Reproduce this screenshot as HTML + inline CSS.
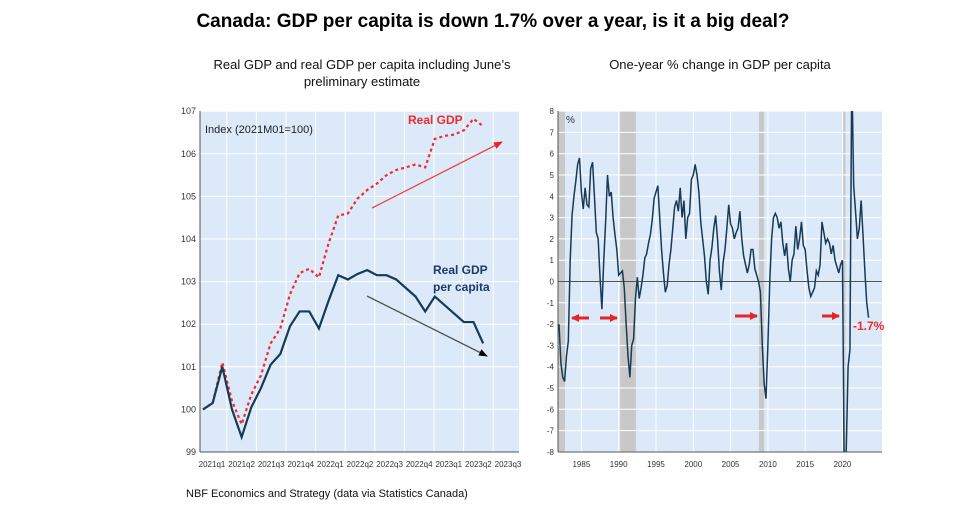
<!DOCTYPE html>
<html><head><meta charset="utf-8"><style>
body{margin:0;background:#fff;font-family:"Liberation Sans",Arial,sans-serif;}
svg text{font-family:"Liberation Sans",Arial,sans-serif;}
</style></head><body>
<svg id="c" width="975" height="508" xmlns="http://www.w3.org/2000/svg">
<text x="493" y="27" text-anchor="middle" font-size="19" font-weight="bold" fill="#000">Canada: GDP per capita is down 1.7% over a year, is it a big deal?</text>
<text x="362" y="69" text-anchor="middle" font-size="13" fill="#111">Real GDP and real GDP per capita including June’s</text>
<text x="362" y="86" text-anchor="middle" font-size="13" fill="#111">preliminary estimate</text>
<text x="720" y="69" text-anchor="middle" font-size="13" fill="#111">One-year % change in GDP per capita</text>
<text x="186" y="497" font-size="11" fill="#111">NBF Economics and Strategy (data via Statistics Canada)</text>
<defs><clipPath id="rc"><rect x="558" y="111" width="324" height="341"/></clipPath>
<marker id="ar" markerUnits="userSpaceOnUse" markerWidth="10" markerHeight="10" refX="8" refY="5" orient="auto"><path d="M0,1.5 L9,5 L0,8.5z" fill="#e8222a"/></marker>
<marker id="ab" markerUnits="userSpaceOnUse" markerWidth="10" markerHeight="10" refX="8" refY="5" orient="auto"><path d="M0,1.5 L9,5 L0,8.5z" fill="#000"/></marker>
<marker id="ar2" markerUnits="userSpaceOnUse" markerWidth="10" markerHeight="10" refX="7" refY="5" orient="auto"><path d="M0,1 L8,5 L0,9z" fill="#e8222a"/></marker></defs>
<g id="left"></g>
<g id="right"></g>
</svg>
<script>
const NS="http://www.w3.org/2000/svg";
function mk(p,t,a){const e=document.createElementNS(NS,t);for(const k in a)e.setAttribute(k,a[k]);p.appendChild(e);return e;}
// ---------- LEFT DATA ----------
const leftYTicks=[99,100,101,102,103,104,105,106,107];
const leftXLabels=["2021q1","2021q2","2021q3","2021q4","2022q1","2022q2","2022q3","2022q4","2023q1","2023q2","2023q3"];
const gdpPerCapita=[100.0,100.15,101.0,100.0,99.35,100.05,100.5,101.05,101.3,101.95,102.3,102.3,101.9,102.55,103.15,103.05,103.18,103.27,103.15,103.15,103.05,102.85,102.65,102.3,102.65,102.45,102.25,102.05,102.05,101.55];
const realGdp=[100.0,100.15,101.1,100.2,99.65,100.35,100.8,101.55,101.9,102.7,103.2,103.3,103.1,103.9,104.55,104.6,104.95,105.15,105.3,105.5,105.62,105.68,105.75,105.68,106.35,106.42,106.45,106.55,106.82,106.65];
// ---------- RIGHT DATA (quarterly from 1982Q1) ----------
const rightYTicks=[-8,-7,-6,-5,-4,-3,-2,-1,0,1,2,3,4,5,6,7,8];
const rightXLabels=[1985,1990,1995,2000,2005,2010,2015,2020];
const recessions=[[1981.5,1982.8],[1990.2,1992.3],[2008.8,2009.5],[2020.1,2020.4]];
const yoyStart=1982.0;
const yoyGrowth=[-2.0,-3.8,-4.5,-4.7,-3.5,-2.8,1.0,3.1,4.0,4.7,5.5,5.8,4.2,3.4,4.4,3.6,3.5,5.3,5.6,4.0,2.3,2.0,0.2,-1.3,1.0,2.8,5.0,4.0,4.2,3.0,2.2,1.5,0.3,0.4,0.5,-0.3,-2.0,-3.5,-4.5,-3.0,-2.7,-0.8,0.2,-0.8,-0.3,0.3,1.1,1.3,1.8,2.2,2.9,3.9,4.2,4.5,3.0,1.5,0.4,-0.5,-0.2,0.8,1.5,2.5,3.5,3.8,3.3,4.4,3.0,3.8,2.0,3.0,3.2,4.8,5.0,5.5,5.0,4.2,2.8,2.0,1.2,0.0,-0.6,1.0,1.6,2.5,3.1,2.0,0.5,-0.4,0.9,1.5,2.5,3.6,2.7,2.5,2.0,2.3,2.5,3.3,2.0,1.2,0.8,0.4,0.8,1.5,1.5,0.6,0.3,0.0,-0.5,-3.0,-4.8,-5.5,-3.0,0.0,2.0,3.0,3.2,3.0,2.5,2.8,1.8,1.2,1.8,0.6,0.0,1.0,1.3,2.6,1.5,2.0,2.8,1.7,1.5,0.5,-0.3,-0.7,-0.5,-0.3,0.5,0.3,0.8,2.8,2.3,1.8,2.0,1.8,1.3,1.7,1.0,0.7,0.4,0.8,1.0,-10,-8,-4,-3.2,10,4.5,3.3,2.0,2.5,3.8,2.2,0.5,-1.0,-1.7];

// ---------- LEFT CHART ----------
const L=document.getElementById('left');
const lx=i=>203+i*9.66, ly=v=>452-(v-99)*42.6;
const lr=mk(L,'rect',{x:200,y:111,width:319,height:341,fill:'#dce9f8'});


leftYTicks.forEach(v=>{
 const g=mk(L,'line',{x1:200,x2:519,y1:ly(v),y2:ly(v),stroke:'#fff','stroke-width':1});
 
 
 const t=mk(L,'text',{x:196,y:ly(v)+3,'text-anchor':'end','font-size':9,fill:'#333'});t.textContent=v;
 
 
});
leftXLabels.forEach((s,i)=>{
 const x=212+i*29.6;
 const g=mk(L,'line',{x1:x+14.8,x2:x+14.8,y1:111,y2:452,stroke:'#fff','stroke-width':1});
 
 
 const t=mk(L,'text',{x:x,y:467,'text-anchor':'middle','font-size':8,fill:'#333'});t.textContent=s;
 
 
});
const la=mk(L,'line',{x1:200,x2:519,y1:452,y2:452,stroke:'#555'});


const lya=mk(L,'line',{x1:200,x2:200,y1:111,y2:452,stroke:'#555'});


const p1=mk(L,'polyline',{points:realGdp.map((v,i)=>lx(i)+','+ly(v)).join(' '),fill:'none',stroke:'#ef2b2d','stroke-width':2.2,'stroke-dasharray':'3,3'});


const p2=mk(L,'polyline',{points:gdpPerCapita.map((v,i)=>lx(i)+','+ly(v)).join(' '),fill:'none',stroke:'#173a56','stroke-width':2.2});


const a1=mk(L,'line',{x1:372,y1:208,x2:502,y2:142,stroke:'#ef4444','stroke-width':1.3,'marker-end':'url(#ar)'});


const a2=mk(L,'line',{x1:367,y1:296,x2:487,y2:356,stroke:'#555','stroke-width':1.3,'marker-end':'url(#ab)'});


[[205,133,'Index (2021M01=100)','#222','normal',11,'index-label'],[408,124,'Real GDP','#ef2b2d','bold',12,'real-gdp-label'],[433,274,'Real GDP','#1d3a6b','bold',12,'per-capita-label-1'],[433,291,'per capita','#1d3a6b','bold',12,'per-capita-label-2']].forEach(d=>{
 const t=mk(L,'text',{x:d[0],y:d[1],fill:d[3],'font-weight':d[4],'font-size':d[5]});t.textContent=d[2];
 
 
});

// ---------- RIGHT CHART ----------
const R=document.getElementById('right');
const rx=yr=>559+(yr-1982)*7.46, ry=v=>281.5-v*21.3;
const rr=mk(R,'rect',{x:558,y:111,width:324,height:341,fill:'#dce9f8'});


recessions.forEach(r=>{
 const b=mk(R,'rect',{x:rx(r[0]),y:111,width:Math.max(2,rx(r[1])-rx(r[0])),height:341,fill:'#c8c8c8','clip-path':'url(#rc)'});
 
 
});
rightYTicks.forEach(v=>{
 const g=mk(R,'line',{x1:558,x2:882,y1:ry(v),y2:ry(v),stroke:'#fff','stroke-width':1});
 
 
 const t=mk(R,'text',{x:554,y:ry(v)+3,'text-anchor':'end','font-size':8,fill:'#333'});t.textContent=v;
 
 
});
rightXLabels.forEach(yr=>{
 const g=mk(R,'line',{x1:rx(yr),x2:rx(yr),y1:111,y2:452,stroke:'#fff'});
 
 
 const t=mk(R,'text',{x:rx(yr),y:467,'text-anchor':'middle','font-size':8,fill:'#333'});t.textContent=yr;
 
 
});
const z=mk(R,'line',{x1:558,x2:882,y1:ry(0),y2:ry(0),stroke:'#555','stroke-width':1});


const rxa=mk(R,'line',{x1:558,x2:882,y1:452,y2:452,stroke:'#555'});


const rya=mk(R,'line',{x1:558,x2:558,y1:111,y2:452,stroke:'#555'});


const p3=mk(R,'polyline',{points:yoyGrowth.map((v,i)=>rx(yoyStart+i*0.25)+','+ry(v)).join(' '),fill:'none',stroke:'#173a56','stroke-width':1.5,'clip-path':'url(#rc)'});


const pc=mk(R,'text',{x:566,y:123,'font-size':10,fill:'#333'});pc.textContent='%';


[[589,318,572,318],[600,318,617,318],[735,316,757,316],[822,316,839,316]].forEach(d=>{
 const a=mk(R,'line',{x1:d[0],y1:d[1],x2:d[2],y2:d[3],stroke:'#e8222a','stroke-width':3,'marker-end':'url(#ar2)'});
 
 
});
const lab=mk(R,'text',{x:853,y:330,'font-size':12,'font-weight':'bold',fill:'#ef2b2d'});lab.textContent='-1.7%';


</script>
</body></html>
